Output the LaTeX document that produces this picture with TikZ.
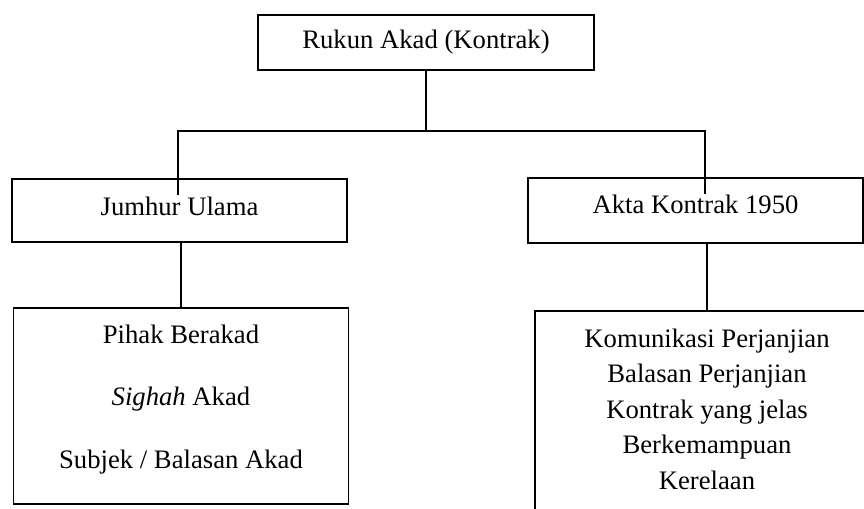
\documentclass[tikz,border=0pt]{standalone}
\usepackage{fontspec}
\setmainfont{Liberation Serif}
\usepackage{tikz}

\tikzset{
  kotak/.style={draw, line width=1.2pt, inner sep=0pt, align=center,
    font=\fontsize{20pt}{26.6pt}\selectfont},
  garis/.style={line width=1.2pt}
}

\begin{document}
\begin{tikzpicture}[x=0.75pt,y=0.75pt,yscale=-1,xscale=1]
\useasboundingbox (0,0) rectangle (864,508);

%Shape: Rectangle [top]
\node [kotak, minimum width=252pt, minimum height=41.25pt] (rukun) at (426,42.5) {Rukun Akad (Kontrak)};
%Shape: Rectangle [left]
\node [kotak, minimum width=251.25pt, minimum height=47.25pt, text depth=7pt] (jumhur) at (179.5,210.5) {Jumhur Ulama};
%Shape: Rectangle [right]
\node [kotak, minimum width=251.25pt, minimum height=48.75pt, text depth=9pt] (akta) at (695.5,210.5) {Akta Kontrak 1950};
%Shape: Rectangle [left list]
\node [kotak, minimum width=251.25pt, minimum height=147pt,
  label={[font=\fontsize{20pt}{26.6pt}\selectfont, align=center, yshift=5pt]center:Pihak Berakad\\[20.3pt] \textit{Sighah} Akad\\[20.3pt] Subjek / Balasan Akad}] (pihak) at (181,406) {};
%Shape: Rectangle [right list]
\node [kotak, minimum width=258pt, minimum height=150.75pt,
  label={[font=\fontsize{20pt}{26.6pt}\selectfont, align=center, yshift=1.9pt]center:Komunikasi Perjanjian\\ Balasan Perjanjian\\ Kontrak yang jelas\\ Berkemampuan\\ Kerelaan}] (komunikasi) at (707,411.5) {};

\coordinate (cabang) at (426,131);
\coordinate (ujungkiri) at (178,195);
\coordinate (ujungkanan) at (705,194);

%Straight Lines
\draw [garis] (rukun.south) -- (cabang);
\draw [garis] (ujungkiri) |- (cabang) -| (ujungkanan);
\draw [garis] (jumhur.south -| pihak.north) -- (pihak.north);
\draw [garis] (akta.south -| komunikasi.north) -- (komunikasi.north);

\end{tikzpicture}
\end{document}
